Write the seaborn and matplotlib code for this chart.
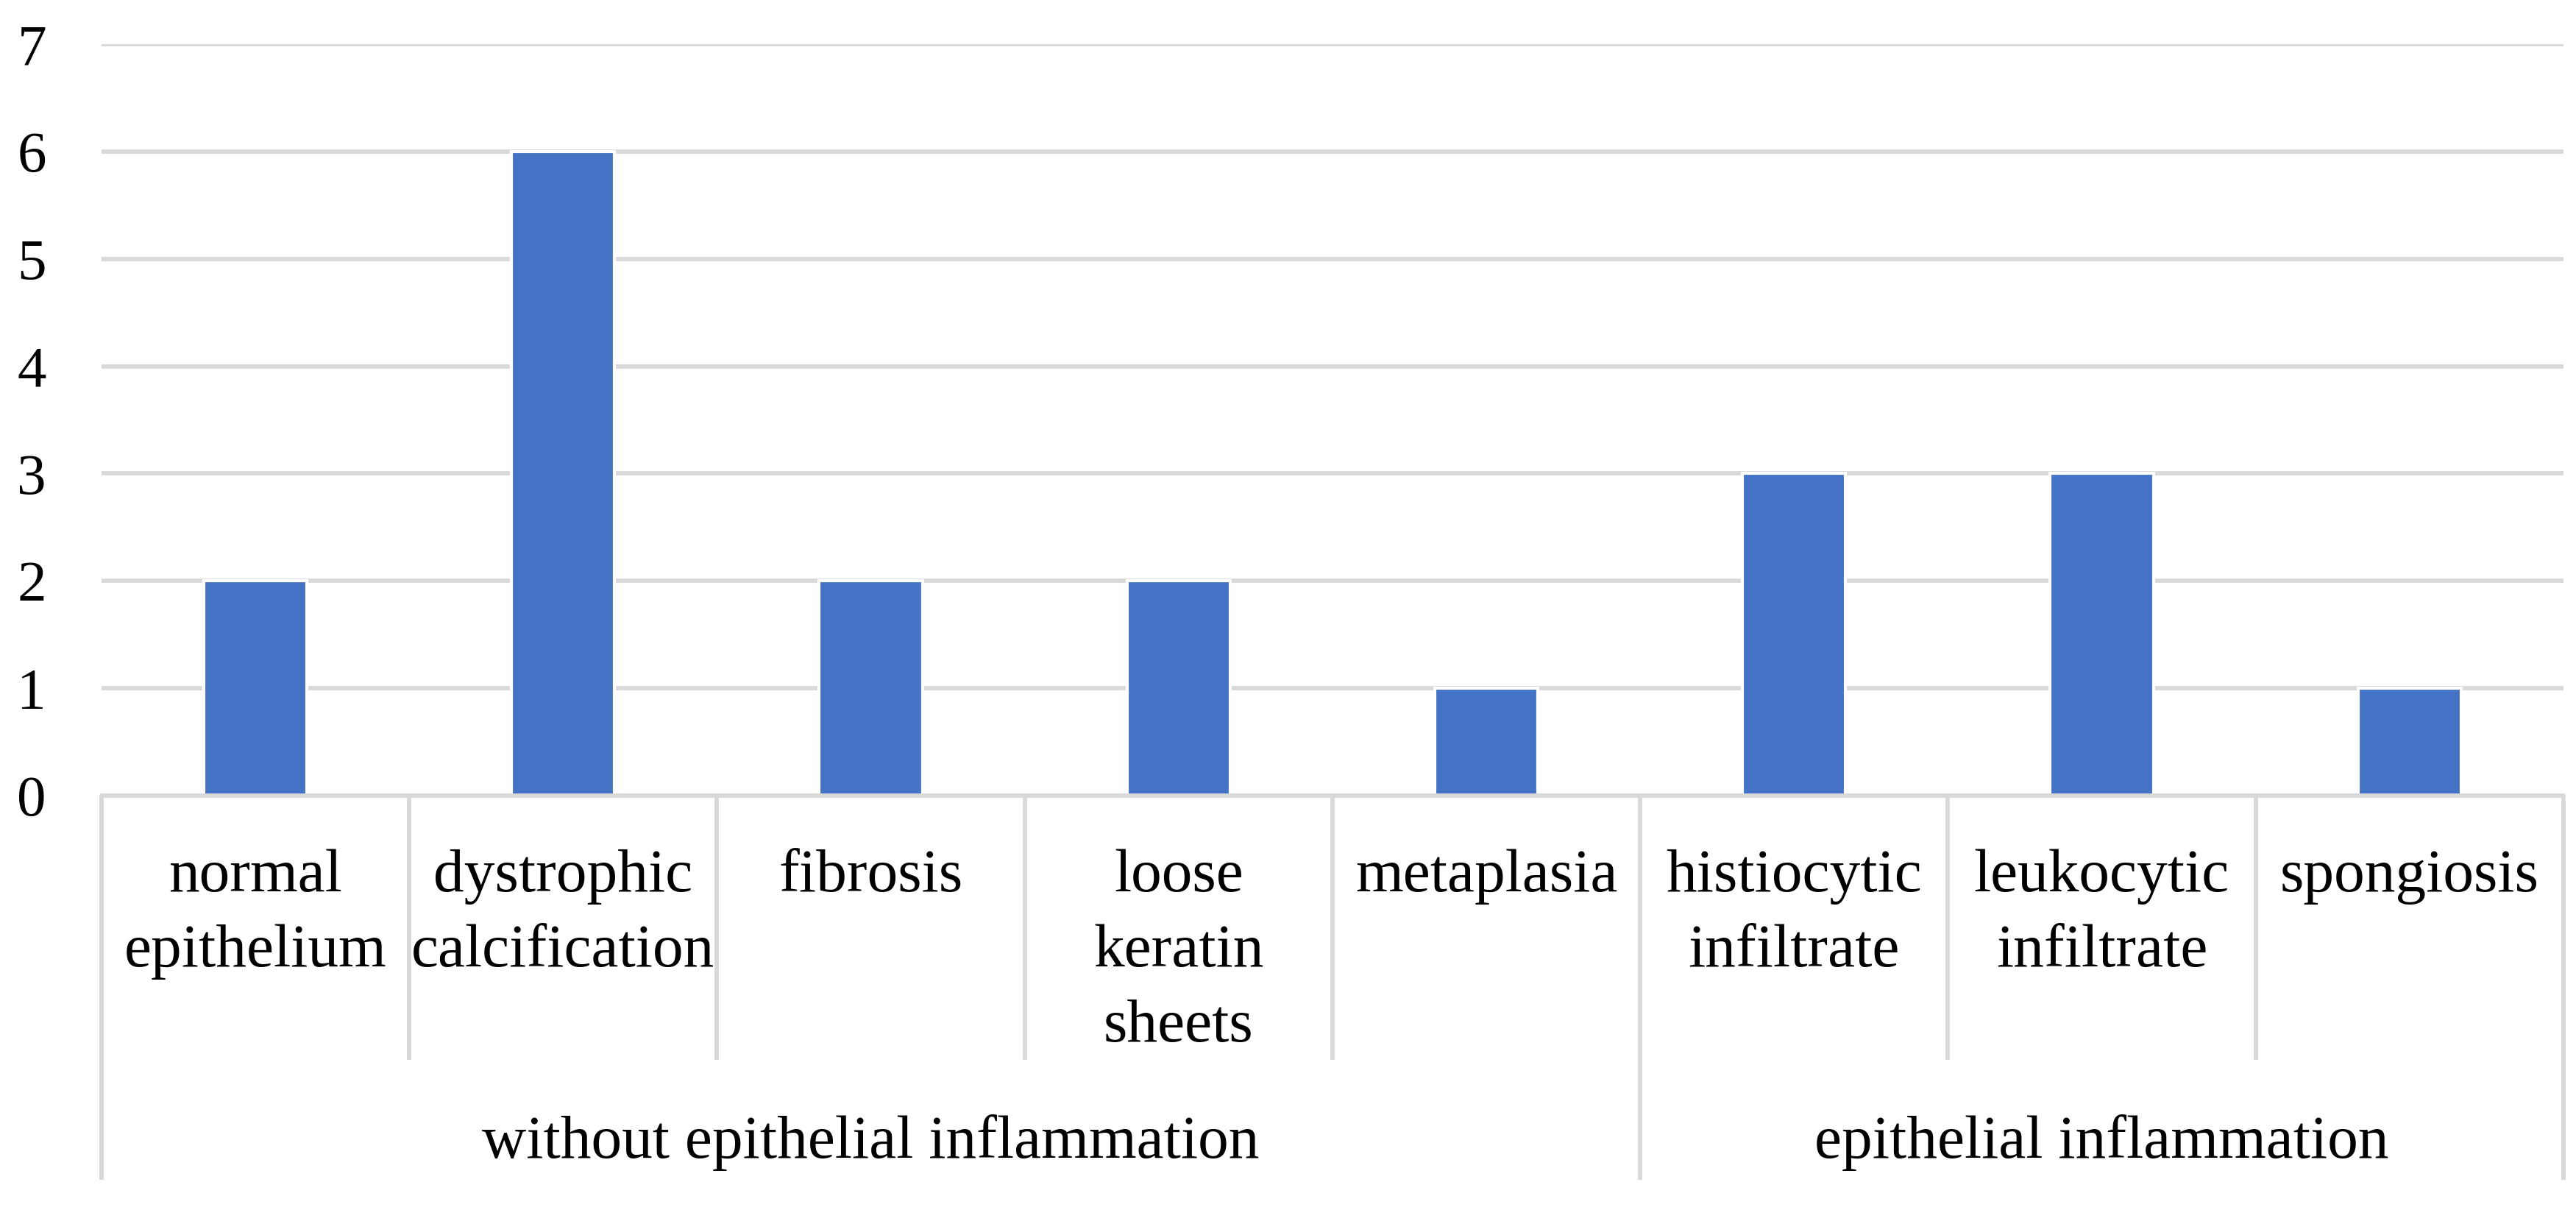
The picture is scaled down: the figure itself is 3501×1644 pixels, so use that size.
import matplotlib
matplotlib.use("Agg")
import matplotlib.pyplot as plt
import matplotlib.transforms as mtransforms
import seaborn as sns
import pandas as pd

# ---- data ----
categories = ["normal\nepithelium", "dystrophic\ncalcification", "fibrosis",
              "loose\nkeratin\nsheets", "metaplasia", "histiocytic\ninfiltrate",
              "leukocytic\ninfiltrate", "spongiosis"]
values = [2, 6, 2, 2, 1, 3, 3, 1]
groups = ["without epithelial inflammation", "epithelial inflammation"]
group_sizes = [5, 3]
yticks = [0, 1, 2, 3, 4, 5, 6, 7]

sns.set_theme(style="white")
plt.rcParams["font.family"] = ["Liberation Serif", "DejaVu Serif"]

GRID = "#D9D9D9"
BAR = "#4472C4"
LW = 1.4

fig = plt.figure(figsize=(3501 / 300, 1644 / 300), dpi=300)
ax = fig.add_axes([0.0394, 0.3425, 0.9557, 0.621])

df = pd.DataFrame({"cat": categories, "val": values})
sns.barplot(data=df, x="cat", y="val", color=BAR, saturation=1, width=0.335, ax=ax, zorder=3)

ax.set_ylim(0, 7)
ax.set_xlim(-0.5, len(categories) - 0.5)
ax.set_yticks(yticks)
ax.set_yticklabels([str(t) for t in yticks], fontsize=19, color="black")
ax.tick_params(axis="y", length=0, pad=18)
ax.tick_params(axis="x", length=0)
ax.set_xticks(range(len(categories)))
ax.set_xticklabels([])
ax.set_xlabel("")
ax.set_ylabel("")
for s in ax.spines.values():
    s.set_visible(False)

# horizontal gridlines (including the axis line at 0)
ax.yaxis.grid(True, color=GRID, linewidth=LW)
ax.set_axisbelow(True)
ax.axhline(0, color=GRID, linewidth=LW, zorder=4, clip_on=False)

trans = mtransforms.blended_transform_factory(ax.transData, ax.transAxes)

# separators
boundaries_group = [-0.5]
acc = -0.5
for g in group_sizes:
    acc += g
    boundaries_group.append(acc)
for i in range(len(categories) + 1):
    x = i - 0.5
    y_end = -0.511 if x in boundaries_group else -0.352
    ax.plot([x, x], [0, y_end], transform=trans, color=GRID, linewidth=LW,
            clip_on=False, solid_capstyle="butt")

# category labels (line by line)
line_y = [-0.1273, -0.2272, -0.327]
for i, lab in enumerate(categories):
    for k, line in enumerate(lab.split("\n")):
        ax.text(i, line_y[k], line, transform=trans, ha="center", va="baseline",
                fontsize=20, color="black")

# group labels
start = -0.5
for g, n in zip(groups, group_sizes):
    ax.text(start + n / 2, -0.4819, g, transform=trans, ha="center", va="baseline",
            fontsize=20, color="black")
    start += n

fig.savefig("out.png", dpi=300, facecolor="white")
